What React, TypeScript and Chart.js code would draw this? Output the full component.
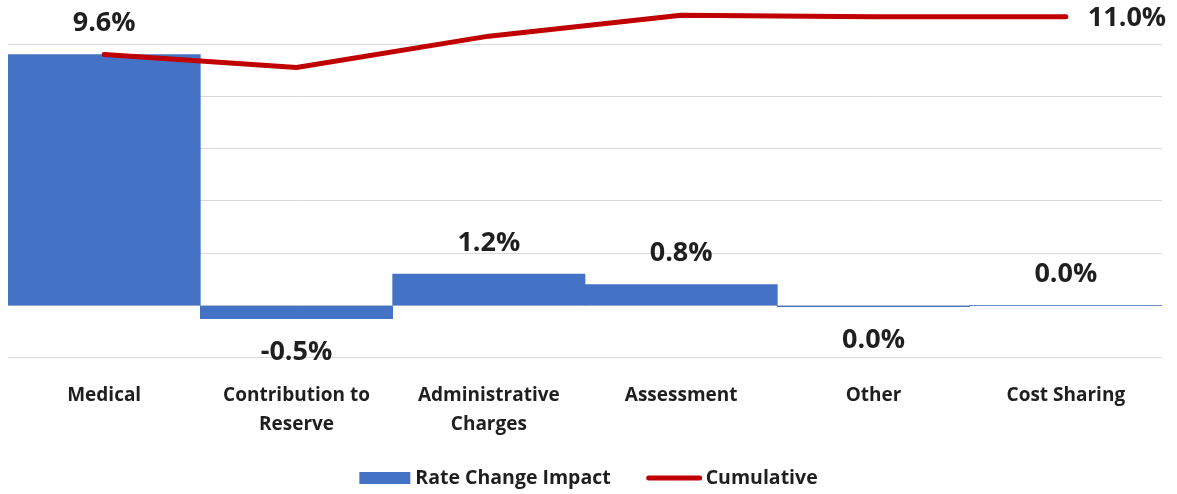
import React, { useEffect, useRef } from 'react';
import { Chart, registerables } from 'chart.js';

Chart.register(...registerables);

const categories = [
  ['Medical'],
  ['Contribution to', 'Reserve'],
  ['Administrative', 'Charges'],
  ['Assessment'],
  ['Other'],
  ['Cost Sharing'],
];
const rateChangeImpact = [9.6, -0.5, 1.2, 0.8, -0.04, 0.0];
const cumulative = [9.6, 9.1, 10.3, 11.1, 11.04, 11.04];
const yTicks = [-2, 0, 2, 4, 6, 8, 10];
const seriesNames = ['Rate Change Impact', 'Cumulative'];

const BLUE = '#4472C4';
const RED = '#C00000';
const TEXT = '#1f1f1f';
const FONT = '"Open Sans", Lato, sans-serif';

const fmt = (v: number) => (Math.round(v * 10) / 10).toFixed(1) + '%';

const valueLabels = {
  id: 'valueLabels',
  afterDatasetsDraw(chart: any) {
    const ctx = chart.ctx;
    ctx.save();
    ctx.font = `bold 27px ${FONT}`;
    ctx.fillStyle = TEXT;
    ctx.textBaseline = 'middle';
    ctx.textAlign = 'center';
    const barMeta = chart.getDatasetMeta(0);
    barMeta.data.forEach((el: any, i: number) => {
      const v = rateChangeImpact[i];
      const y = v >= 0 ? el.y - 31 : el.y + 34;
      ctx.fillText(fmt(v), el.x, y);
    });
    const lineMeta = chart.getDatasetMeta(1);
    const n = lineMeta.data.length - 1;
    const last = lineMeta.data[n];
    ctx.textAlign = 'left';
    ctx.fillText(fmt(cumulative[n]), last.x + 22, last.y + 2);
    ctx.restore();
  },
};

const customLegend = {
  id: 'customLegend',
  afterDraw(chart: any) {
    const ctx = chart.ctx;
    ctx.save();
    ctx.font = `bold 19.5px ${FONT}`;
    ctx.fillStyle = TEXT;
    ctx.textBaseline = 'middle';
    ctx.textAlign = 'left';
    const cy = 478;
    const boxW = 51;
    const lineW = 55;
    const gapBox = 5;
    const gapLine = 4;
    const gapItems = 36;
    const w0 = ctx.measureText(seriesNames[0]).width;
    const w1 = ctx.measureText(seriesNames[1]).width;
    const total = boxW + gapBox + w0 + gapItems + lineW + gapLine + w1;
    let x = (chart.width - total) / 2;
    ctx.fillStyle = BLUE;
    ctx.fillRect(x, cy - 6, boxW, 12);
    x += boxW + gapBox;
    ctx.fillStyle = TEXT;
    ctx.fillText(seriesNames[0], x, cy);
    x += w0 + gapItems;
    ctx.strokeStyle = RED;
    ctx.lineWidth = 5;
    ctx.lineCap = 'round';
    ctx.beginPath();
    ctx.moveTo(x + 2, cy);
    ctx.lineTo(x + lineW - 2, cy);
    ctx.stroke();
    x += lineW + gapLine;
    ctx.fillText(seriesNames[1], x, cy);
    ctx.restore();
  },
};

export default function App() {
  const ref = useRef<HTMLCanvasElement>(null);
  useEffect(() => {
    document.body.style.margin = '0';
    const chart = new Chart(ref.current!, {
      type: 'bar',
      data: {
        labels: categories,
        datasets: [
          {
            type: 'bar',
            label: seriesNames[0],
            data: rateChangeImpact,
            backgroundColor: BLUE,
            borderWidth: 0,
            categoryPercentage: 1,
            barPercentage: 1,
            order: 1,
          },
          {
            type: 'line',
            label: seriesNames[1],
            data: cumulative,
            borderColor: RED,
            backgroundColor: RED,
            borderWidth: 5,
            pointRadius: 0,
            tension: 0,
            borderCapStyle: 'round',
            borderJoinStyle: 'round',
            order: 0,
          },
        ] as any,
      },
      options: {
        animation: false,
        responsive: false,
        layout: { padding: { left: 8, right: 15, top: 10, bottom: 32 } },
        scales: {
          x: {
            grid: { display: false, drawTicks: false },
            border: { display: false },
            ticks: {
              padding: 23,
              color: TEXT,
              font: { family: FONT, size: 19, weight: 'bold', lineHeight: 1.53 },
              maxRotation: 0,
              autoSkip: false,
            },
          },
          y: {
            min: -2,
            max: 11.3,
            afterBuildTicks: (axis: any) => {
              axis.ticks = yTicks.map((v) => ({ value: v }));
            },
            grid: { color: '#D9D9D9', lineWidth: 1, drawTicks: false },
            border: { display: false },
            ticks: { display: false },
          },
        },
        plugins: {
          tooltip: { enabled: false },
          legend: { display: false },
        },
      } as any,
      plugins: [valueLabels, customLegend],
    });
    return () => chart.destroy();
  }, []);
  return (
    <div style={{ width: 1177, height: 494 }}>
      <canvas ref={ref} width={1177} height={494} />
    </div>
  );
}
